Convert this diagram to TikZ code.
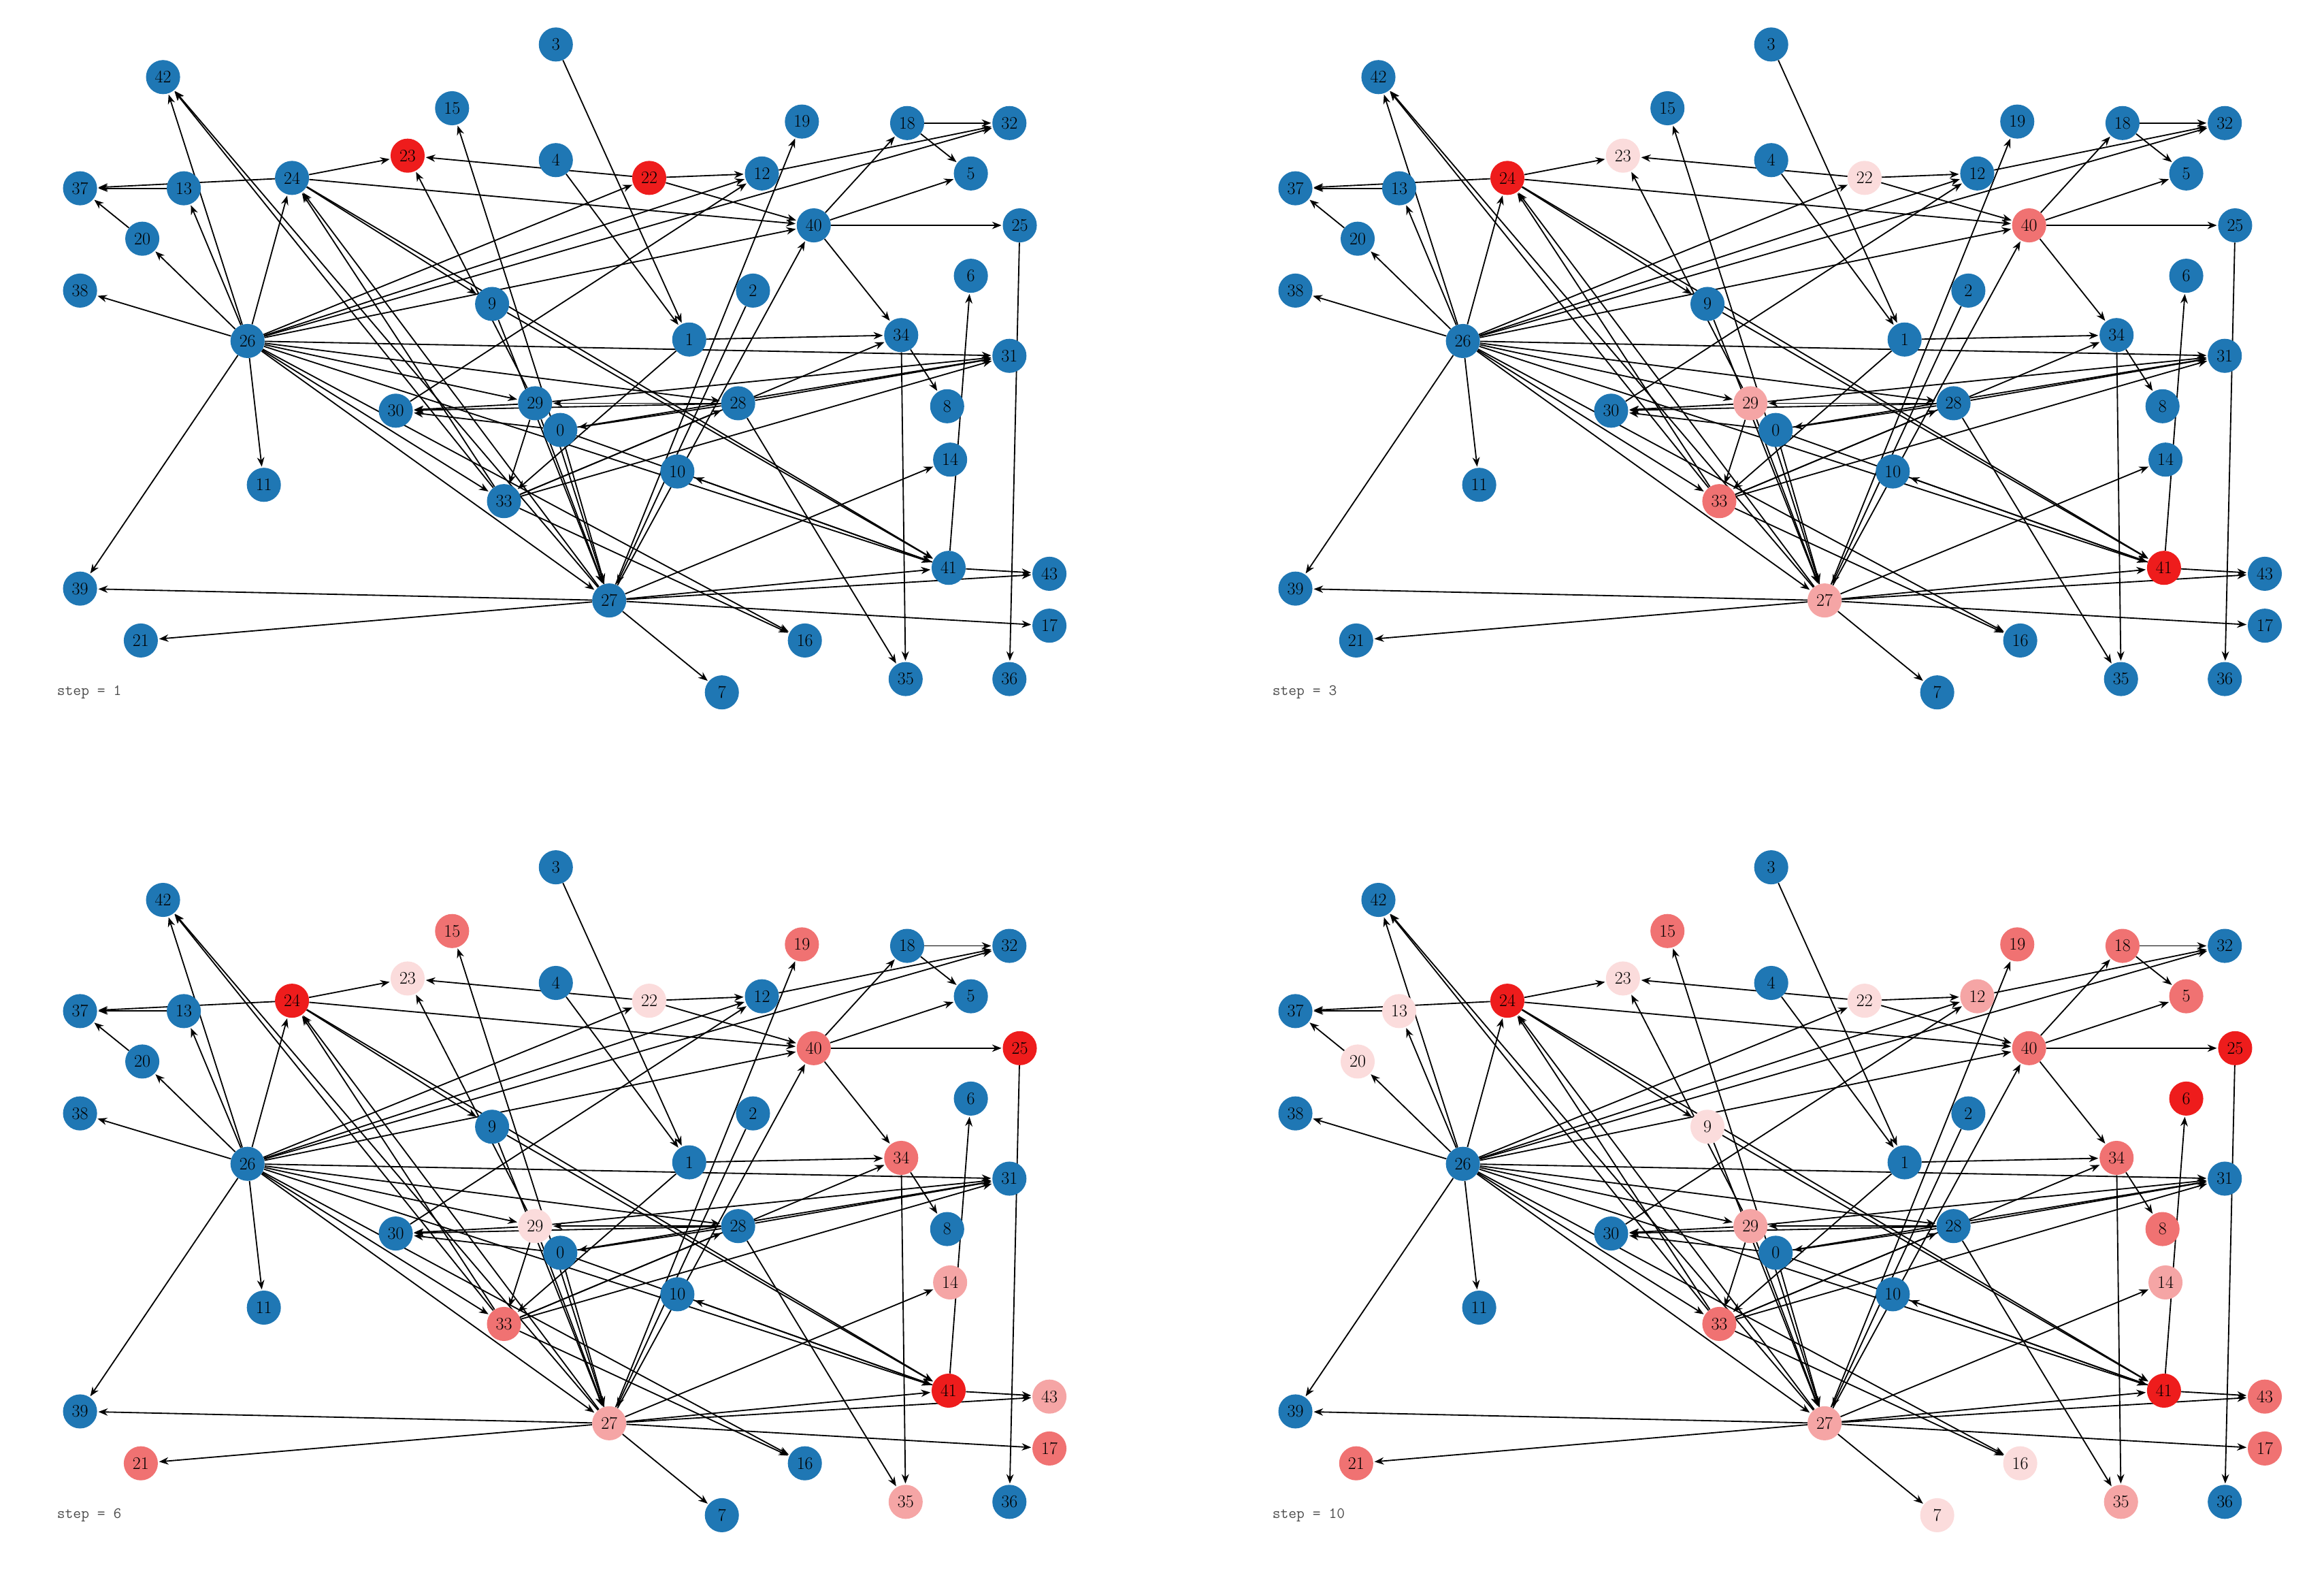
\documentclass[tikz,border=0pt]{standalone}
\usetikzlibrary{arrows.meta,backgrounds}
\definecolor{B}{HTML}{1F77B4}
\definecolor{R}{HTML}{EE1C1C}
\definecolor{M}{HTML}{F07272}
\definecolor{L}{HTML}{F5A5A5}
\definecolor{V}{HTML}{FBDCDC}
\tikzset{
 nd/.style={circle,fill=B,inner sep=0pt,minimum size=1.15cm,font=\fontsize{17}{17}\selectfont},
 ed/.style={-{Stealth[length=9pt,width=7pt]},line width=1.2pt,shorten >=1pt},
 steplab/.style={anchor=west,text=black!70,font=\fontsize{15}{15}\selectfont\ttfamily}
}
\newcommand\graphpanel[1]{%
 \foreach \n/\x/\y in {3/375/30,42/110/52,15/305/73,18/612/83,19/541/82,32/681/83,4/375/108,23/275/105,22/438/120,12/514/117,5/655/117,37/54/127,13/124/127,24/197/120,40/549/152,25/688/152,20/96/161,6/655/186,38/54/196,2/508/196,9/332/205,26/167/230,1/465/229,34/608/226,31/681/240,8/639/274,30/267/277,29/361/272,28/498/272,0/378/290,14/641/310,10/457/318,11/178/327,33/340/338,41/640/383,43/708/387,39/54/397,27/411/405,17/708/422,21/95/432,16/543/432,35/611/458,36/681/458,7/487/467}
  \node[nd,c\n/.try] (#1\n) at (\x*0.05,-\y*0.05) {\n};
 \begin{scope}[on background layer]
 \foreach \a/\b in {24/23,22/23,24/37,13/37,20/37,26/42,26/13,26/20,26/38,26/24,26/39,26/11,27/42,33/42,27/24,33/24,24/9,24/40,24/41,29/23,27/15,3/1,4/1,22/40,22/12,26/12,26/32,26/40,26/22,40/18,40/5,18/5,18/32,12/32,40/25,40/34,27/19,1/34,1/33,2/27,25/36,41/6,34/8,34/35,28/31,28/35,29/31,0/31,33/31,33/34,27/14,27/41,27/43,41/43,27/17,27/21,27/39,27/7,27/40,41/10,0/41,9/41,28/30,29/30,0/30,26/16,26/27,26/33,26/28,26/29,26/31,26/41,30/12,28/29,28/0,33/28,0/27,29/27,29/33,9/27,33/16}
  \draw[ed] (#1\a) -- (#1\b);
 \end{scope}}
\begin{document}
\begin{tikzpicture}
\useasboundingbox (0,0) rectangle (78.4,-53.4);
\begin{scope}
 \tikzset{c23/.style={fill=R},c22/.style={fill=R}}
 \graphpanel{a}
 \node[steplab] (sa) at (36*0.05,-467*0.05) {step = 1};
\end{scope}
\begin{scope}[xshift=41cm]
 \tikzset{c24/.style={fill=R},c41/.style={fill=R},c40/.style={fill=M},c33/.style={fill=M},c29/.style={fill=L},c27/.style={fill=L},c23/.style={fill=V},c22/.style={fill=V}}
 \graphpanel{b}
 \node[steplab] (sb) at (36*0.05,-467*0.05) {step = 3};
\end{scope}
\begin{scope}[yshift=-27.75cm]
 \tikzset{c24/.style={fill=R},c41/.style={fill=R},c25/.style={fill=R},c40/.style={fill=M},c34/.style={fill=M},c33/.style={fill=M},c15/.style={fill=M},c19/.style={fill=M},c21/.style={fill=M},c17/.style={fill=M},c43/.style={fill=L},c14/.style={fill=L},c27/.style={fill=L},c35/.style={fill=L},c29/.style={fill=V},c23/.style={fill=V},c22/.style={fill=V}}
 \graphpanel{c}
 \node[steplab] (sc) at (36*0.05,-467*0.05) {step = 6};
\end{scope}
\begin{scope}[xshift=41cm,yshift=-27.75cm]
 \tikzset{c24/.style={fill=R},c41/.style={fill=R},c25/.style={fill=R},c6/.style={fill=R},c40/.style={fill=M},c34/.style={fill=M},c8/.style={fill=M},c18/.style={fill=M},c5/.style={fill=M},c33/.style={fill=M},c15/.style={fill=M},c19/.style={fill=M},c21/.style={fill=M},c43/.style={fill=M},c17/.style={fill=M},c14/.style={fill=L},c27/.style={fill=L},c35/.style={fill=L},c29/.style={fill=L},c12/.style={fill=L},c13/.style={fill=V},c20/.style={fill=V},c9/.style={fill=V},c16/.style={fill=V},c7/.style={fill=V},c23/.style={fill=V},c22/.style={fill=V}}
 \graphpanel{d}
 \node[steplab] (sd) at (36*0.05,-467*0.05) {step = 10};
\end{scope}
\end{tikzpicture}
\end{document}
